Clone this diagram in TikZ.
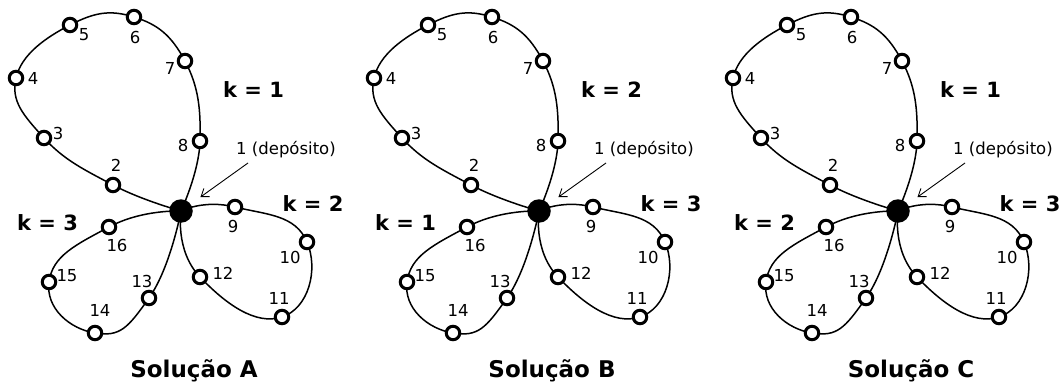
\documentclass[tikz,border=0pt]{standalone}
\usepackage{fontspec}
\setmainfont{DejaVu Sans}
\usetikzlibrary{arrows.meta,backgrounds}
\tikzset{
 cust/.style={circle, draw, line width=3pt, fill=white, minimum size=13.5pt, inner sep=0pt},
 depot/.style={circle, fill=black, minimum size=23.5pt, inner sep=0pt},
 lab/.style={font=\fontsize{16.5}{16.5}\selectfont, inner sep=0pt},
 klab/.style={font=\fontsize{21}{21}\selectfont\bfseries, inner sep=0pt, anchor=base},
 soltitle/.style={font=\fontsize{23}{23}\selectfont\bfseries, inner sep=0pt, anchor=base},
 route/.style={line width=1.5pt},
 pointer/.style={line width=0.9pt, -{Straight Barb[length=7pt,width=10pt]}, shorten >=12pt},
}
\newcommand{\solpanel}[6]{%
\begin{scope}[xshift=#2pt]
 \node[depot] (#1n1) at (181,211) {};
 \node[cust] (#1n2) at (113,185) {};
 \node[cust] (#1n3) at (44,138) {};
 \node[cust] (#1n4) at (16,78) {};
 \node[cust] (#1n5) at (70,25) {};
 \node[cust] (#1n6) at (134,17) {};
 \node[cust] (#1n7) at (185,61) {};
 \node[cust] (#1n8) at (200,141) {};
 \node[cust] (#1n9) at (235,207) {};
 \node[cust] (#1n10) at (307,242) {};
 \node[cust] (#1n11) at (282,317) {};
 \node[cust] (#1n12) at (200,277) {};
 \node[cust] (#1n13) at (149,298) {};
 \node[cust] (#1n14) at (95,333) {};
 \node[cust] (#1n15) at (49,282) {};
 \node[cust] (#1n16) at (109,227) {};
 \begin{scope}[on background layer]
  \draw[route] plot[smooth, tension=0.75] coordinates {(#1n1) (#1n2) (#1n3) (#1n4) (#1n5) (#1n6) (#1n7) (#1n8) (#1n1)};
  \draw[route] plot[smooth, tension=0.9] coordinates {(#1n1) (#1n9) (#1n10) (#1n11) (#1n12) (#1n1)};
  \draw[route] plot[smooth, tension=0.9] coordinates {(#1n1) (#1n16) (#1n15) (#1n14) (#1n13) (#1n1)};
 \end{scope}
 \node[lab] (#1l2) at (116,165) {2};
 \node[lab] (#1l3) at (58,133) {3};
 \node[lab] (#1l4) at (33,78) {4};
 \node[lab] (#1l5) at (84,35) {5};
 \node[lab] (#1l6) at (135,37) {6};
 \node[lab] (#1l7) at (170,68) {7};
 \node[lab] (#1l8) at (183,145) {8};
 \node[lab] (#1l9) at (233,226) {9};
 \node[lab] (#1l10) at (290,257) {10};
 \node[lab] (#1l11) at (279,298) {11};
 \node[lab] (#1l12) at (223,273) {12};
 \node[lab] (#1l13) at (142,281) {13};
 \node[lab] (#1l14) at (100,310) {14};
 \node[lab] (#1l15) at (67,276) {15};
 \node[lab] (#1l16) at (117,245) {16};
 \node[lab] (#1dl) at (286,150) {1 (depósito)};
 \coordinate (#1at) at (248,163);
 \draw[pointer] (#1at) -- (#1n1);
 \node[klab] (#1ka) at (253.5,98) {k = #3};
 \node[klab] (#1kb) at (313,211) {k = #4};
 \node[klab] (#1kc) at (47.5,230) {k = #5};
 \node[soltitle] (#1t) at (194,377) {Solução #6};
\end{scope}}
\begin{document}
\begin{tikzpicture}[x=1pt, y=-1pt]
 \useasboundingbox (0,0) rectangle (1060,385);
 \solpanel{a}{0}{1}{2}{3}{A}
 \solpanel{b}{358}{2}{3}{1}{B}
 \solpanel{c}{717}{1}{3}{2}{C}
\end{tikzpicture}
\end{document}
